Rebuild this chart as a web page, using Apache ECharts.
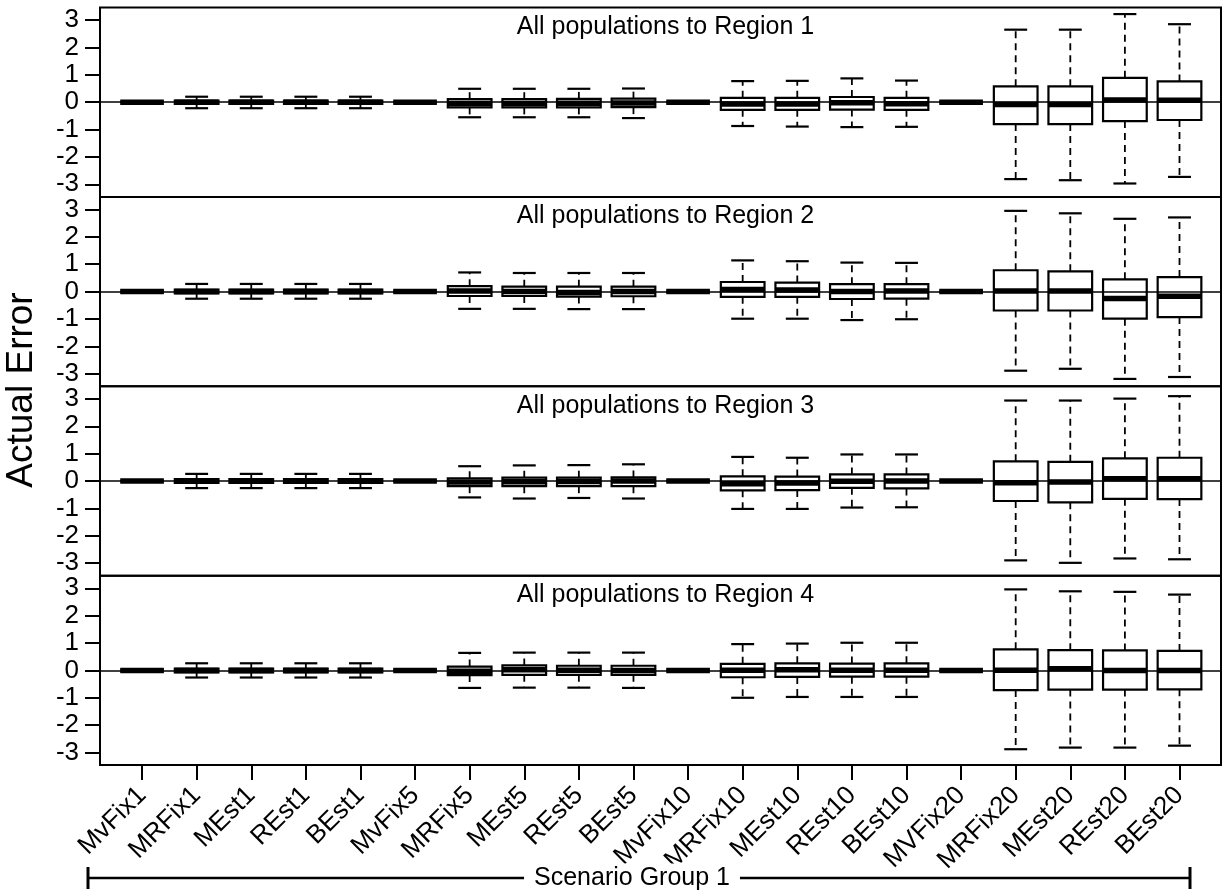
<!DOCTYPE html>
<html>
<head>
<meta charset="utf-8">
<script src="https://cdn.jsdelivr.net/npm/echarts@6/dist/echarts.min.js"></script>
<style>html,body{margin:0;padding:0;background:#fff;}#chart{width:1225px;height:893px;}</style>
</head>
<body>
<div id="chart"></div>
<script>
// ---- data ----
const categories = ['MvFix1','MRFix1','MEst1','REst1','BEst1','MvFix5','MRFix5','MEst5','REst5','BEst5',
  'MvFix10','MRFix10','MEst10','REst10','BEst10','MVFix20','MRFix20','MEst20','REst20','BEst20'];
const yTicks = [-3, -2, -1, 0, 1, 2, 3];
const regionTitles = ['All populations to Region 1','All populations to Region 2','All populations to Region 3','All populations to Region 4'];
// each box: [lower whisker, Q1, median, Q3, upper whisker]
const region1 = [
  [0,0,0,0,0],[-0.22,-0.06,0,0.06,0.2],[-0.22,-0.06,0,0.06,0.2],[-0.22,-0.06,0,0.06,0.2],[-0.22,-0.06,0,0.06,0.2],
  [0,0,0,0,0],[-0.55,-0.19,-0.05,0.11,0.49],[-0.55,-0.19,-0.05,0.11,0.49],[-0.55,-0.19,-0.04,0.12,0.49],[-0.58,-0.18,-0.03,0.13,0.5],
  [0,0,0,0,0],[-0.87,-0.28,-0.07,0.16,0.77],[-0.89,-0.28,-0.07,0.16,0.78],[-0.91,-0.27,-0.02,0.19,0.87],[-0.9,-0.28,-0.06,0.16,0.79],
  [0,0,0,0,0],[-2.81,-0.8,-0.08,0.58,2.65],[-2.85,-0.8,-0.08,0.58,2.65],[-2.97,-0.69,0.08,0.89,3.22],[-2.73,-0.65,0.07,0.76,2.85]
];
const region2 = [
  [0,0,0,0,0],[-0.26,-0.07,0,0.07,0.28],[-0.26,-0.07,0,0.07,0.28],[-0.26,-0.07,0,0.07,0.28],[-0.26,-0.07,0,0.07,0.28],
  [0,0,0,0,0],[-0.63,-0.16,0.02,0.2,0.7],[-0.63,-0.16,0,0.18,0.68],[-0.64,-0.18,-0.03,0.18,0.68],[-0.64,-0.17,0,0.18,0.68],
  [0,0,0,0,0],[-0.99,-0.19,0.08,0.35,1.14],[-0.99,-0.19,0.06,0.33,1.11],[-1.04,-0.27,0,0.27,1.06],[-1.01,-0.26,0.02,0.27,1.05],
  [0,0,0,0,0],[-2.89,-0.69,0.02,0.78,2.95],[-2.82,-0.69,0.02,0.74,2.86],[-3.19,-0.99,-0.25,0.45,2.66],[-3.12,-0.93,-0.17,0.53,2.71]
];
const region3 = [
  [0,0,0,0,0],[-0.26,-0.07,0,0.07,0.26],[-0.26,-0.07,0,0.07,0.26],[-0.26,-0.07,0,0.07,0.26],[-0.26,-0.07,0,0.07,0.26],
  [0,0,0,0,0],[-0.6,-0.19,-0.04,0.1,0.54],[-0.64,-0.19,-0.03,0.12,0.57],[-0.62,-0.19,-0.02,0.12,0.58],[-0.64,-0.19,0,0.13,0.61],
  [0,0,0,0,0],[-1.02,-0.34,-0.1,0.17,0.88],[-1.02,-0.33,-0.07,0.16,0.85],[-0.97,-0.25,-0.01,0.24,0.97],[-0.96,-0.27,0,0.24,0.97],
  [0,0,0,0,0],[-2.9,-0.73,-0.06,0.72,2.94],[-2.99,-0.78,-0.04,0.7,2.94],[-2.83,-0.65,0.08,0.83,3.01],[-2.86,-0.66,0.08,0.85,3.1]
];
const region4 = [
  [0,0,0,0,0],[-0.26,-0.07,0,0.07,0.26],[-0.26,-0.07,0,0.07,0.26],[-0.26,-0.07,0,0.07,0.26],[-0.26,-0.07,0,0.07,0.26],
  [0,0,0,0,0],[-0.64,-0.17,-0.03,0.14,0.64],[-0.63,-0.16,0.02,0.18,0.65],[-0.63,-0.16,0.01,0.17,0.65],[-0.64,-0.16,0,0.17,0.65],
  [0,0,0,0,0],[-1.0,-0.25,0.01,0.24,0.96],[-0.97,-0.24,0.02,0.26,0.98],[-0.97,-0.23,0.01,0.25,1.01],[-0.97,-0.23,0.01,0.26,1.01],
  [0,0,0,0,0],[-2.88,-0.72,0.01,0.77,2.96],[-2.82,-0.7,0.06,0.74,2.89],[-2.82,-0.7,0,0.73,2.87],[-2.75,-0.69,0,0.71,2.77]
];
const regions = [region1, region2, region3, region4];

// ---- layout ----
const FONT = "'Liberation Sans', Arial, sans-serif";
const gridLeft = 100, gridWidth = 1121, gridTop0 = 7.5, panelH = 189.4;
const xPositions = categories.map((c, i) => i + 1);

function renderBox(params, api) {
  const x = api.value(0);
  const low = api.coord([x, api.value(1)]);
  const q1 = api.coord([x, api.value(2)]);
  const med = api.coord([x, api.value(3)]);
  const q3 = api.coord([x, api.value(4)]);
  const high = api.coord([x, api.value(5)]);
  const band = api.size([1, 0])[0];
  const hw = band * 0.4;
  const cw = band * 0.21;
  const cx = med[0];
  const dashed = { stroke: '#000', lineWidth: 1.8, lineDash: [7, 5], fill: null };
  const solid = { stroke: '#000', lineWidth: 2.2, fill: null };
  const children = [];
  if (high[1] < q3[1] - 0.5) {
    children.push({ type: 'line', shape: { x1: cx, y1: q3[1], x2: cx, y2: high[1] }, style: dashed });
    children.push({ type: 'line', shape: { x1: cx - cw, y1: high[1], x2: cx + cw, y2: high[1] }, style: solid });
  }
  if (low[1] > q1[1] + 0.5) {
    children.push({ type: 'line', shape: { x1: cx, y1: q1[1], x2: cx, y2: low[1] }, style: dashed });
    children.push({ type: 'line', shape: { x1: cx - cw, y1: low[1], x2: cx + cw, y2: low[1] }, style: solid });
  }
  children.push({ type: 'rect', shape: { x: cx - hw, y: q3[1], width: 2 * hw, height: q1[1] - q3[1] },
    style: { fill: 'rgba(0,0,0,0)', stroke: '#000', lineWidth: 2.2 } });
  children.push({ type: 'line', shape: { x1: cx - hw, y1: med[1], x2: cx + hw, y2: med[1] },
    style: { stroke: '#000', lineWidth: 5.5, lineCap: 'butt' } });
  return { type: 'group', children };
}

const option = {
  animation: false,
  backgroundColor: '#fff',
  textStyle: { fontFamily: FONT, color: '#000' },
  title: regionTitles.map((t, i) => ({
    text: t, left: gridLeft + gridWidth / 2, textAlign: 'center', top: gridTop0 + i * panelH + 2,
    textStyle: { fontSize: 25, fontWeight: 'normal', fontFamily: FONT, color: '#000' }
  })),
  grid: regions.map((r, i) => ({
    left: gridLeft, width: gridWidth, top: gridTop0 + i * panelH, height: panelH,
    show: true, borderColor: '#000', borderWidth: 2, backgroundColor: 'rgba(0,0,0,0)',
    containLabel: false, outerBoundsMode: 'none'
  })),
  xAxis: regions.map((r, i) => ({
    type: 'value', gridIndex: i, min: 0.23, max: 20.76,
    splitLine: { show: false }, axisLine: { show: false, onZero: false },
    axisTick: { show: i === 3, customValues: xPositions, length: 15, lineStyle: { color: '#000', width: 2 } },
    axisLabel: { show: i === 3, customValues: xPositions, rotate: 45, margin: 26, fontSize: 26,
      fontFamily: FONT, color: '#000', formatter: v => categories[Math.round(v) - 1] || '' }
  })),
  yAxis: regions.map((r, i) => ({
    type: 'value', gridIndex: i, min: -3.46, max: 3.46,
    splitLine: { show: false }, axisLine: { show: false, onZero: false },
    axisTick: { show: true, customValues: yTicks, length: 15, lineStyle: { color: '#000', width: 2 } },
    axisLabel: { customValues: yTicks, margin: 21, fontSize: 26, fontFamily: FONT, color: '#000' }
  })),
  series: regions.map((r, i) => ({
    type: 'custom', xAxisIndex: i, yAxisIndex: i,
    data: r.map((d, j) => [xPositions[j]].concat(d)),
    encode: { x: 0, y: [1, 2, 3, 4, 5] },
    renderItem: renderBox,
    clip: false,
    markLine: { silent: true, symbol: 'none', label: { show: false }, animation: false,
      lineStyle: { color: '#000', width: 1.6, type: 'solid' }, data: [{ yAxis: 0 }] }
  })),
  graphic: [
    { type: 'text', x: 22, y: 390, rotation: Math.PI / 2,
      style: { text: 'Actual Error', fontSize: 37, fontFamily: FONT, fill: '#000', align: 'center', verticalAlign: 'middle' } },
    { type: 'line', shape: { x1: 88, y1: 878, x2: 1190, y2: 878 }, style: { stroke: '#000', lineWidth: 2.5 } },
    { type: 'line', shape: { x1: 88, y1: 867, x2: 88, y2: 889 }, style: { stroke: '#000', lineWidth: 3 } },
    { type: 'line', shape: { x1: 1190, y1: 867, x2: 1190, y2: 889 }, style: { stroke: '#000', lineWidth: 3 } },
    { type: 'text', x: 632, y: 878, z: 10,
      style: { text: 'Scenario Group 1', fontSize: 25, fontFamily: FONT, fill: '#000', backgroundColor: '#fff',
        padding: [2, 10], align: 'center', verticalAlign: 'middle' } }
  ]
};

const chart = echarts.init(document.getElementById('chart'), null, { renderer: 'canvas' });
chart.setOption(option);
</script>
</body>
</html>
